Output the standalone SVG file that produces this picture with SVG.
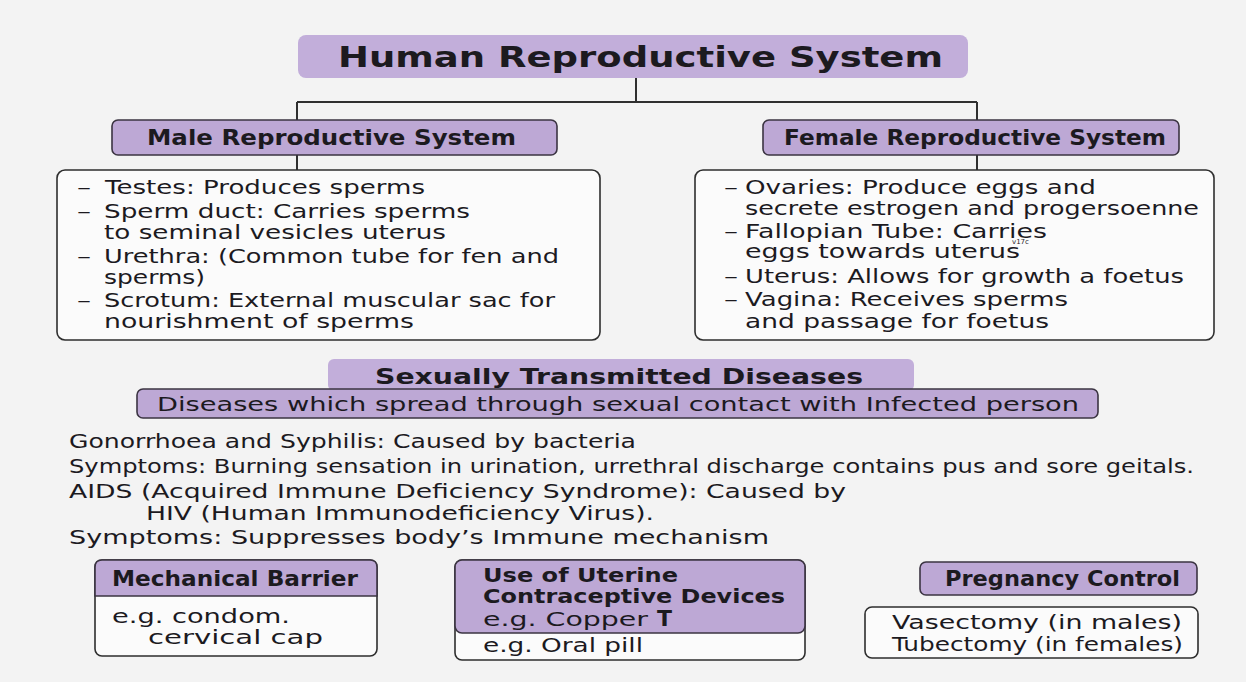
<svg xmlns="http://www.w3.org/2000/svg" width="1246" height="682" viewBox="0 0 1246 682">
<style>
  text { font-family: "DejaVu Sans", "Liberation Sans", sans-serif; fill: #1c1a1f; }
  .t { font-size: 29px; font-weight: bold; }
  .h { font-size: 21px; font-weight: bold; }
  .hs { font-size: 19px; font-weight: bold; }
  .r { font-size: 19px; }
  .m { font-size: 20px; }
  .lav { fill: #bda8d5; stroke: #3b3442; stroke-width: 1.6; }
  .lavsoft { fill: #c2aeda; stroke: none; }
  .box { fill: #fbfbfb; stroke: #2e2e2e; stroke-width: 1.6; }
  .con { stroke: #2f2f2f; stroke-width: 2; fill: none; }
</style>
<rect width="1246" height="682" fill="#f3f3f3"/>

<g id="connectors">
  <line class="con" x1="636" y1="78" x2="636" y2="102"/>
  <line class="con" x1="297" y1="102" x2="977" y2="102"/>
  <line class="con" x1="297" y1="102" x2="297" y2="120"/>
  <line class="con" x1="977" y1="102" x2="977" y2="120"/>
  <line class="con" x1="297" y1="155" x2="297" y2="170"/>
  <line class="con" x1="977" y1="155" x2="977" y2="170"/>
</g>

<g id="title">
  <rect class="lavsoft" x="298" y="35" width="670" height="43" rx="8"/>
  <text class="t" x="338" y="67" textLength="605" lengthAdjust="spacingAndGlyphs">Human Reproductive System</text>
</g>

<g id="male-header">
  <rect class="lav" x="112" y="120" width="445" height="35" rx="6"/>
  <text class="h" x="147" y="145" textLength="369" lengthAdjust="spacingAndGlyphs">Male Reproductive System</text>
</g>

<g id="female-header">
  <rect class="lav" x="763" y="120" width="416" height="35" rx="6"/>
  <text class="h" x="784" y="145" textLength="382" lengthAdjust="spacingAndGlyphs">Female Reproductive System</text>
</g>

<g id="male-content">
  <rect class="box" x="57" y="170" width="543" height="170" rx="8"/>
  <text class="r" x="77" y="194" textLength="14" lengthAdjust="spacingAndGlyphs">–</text>
  <text class="r" x="105" y="194" textLength="320" lengthAdjust="spacingAndGlyphs">Testes: Produces sperms</text>
  <text class="r" x="77" y="218" textLength="14" lengthAdjust="spacingAndGlyphs">–</text>
  <text class="r" x="104" y="218" textLength="366" lengthAdjust="spacingAndGlyphs">Sperm duct: Carries sperms</text>
  <text class="r" x="104" y="239" textLength="342" lengthAdjust="spacingAndGlyphs">to seminal vesicles uterus</text>
  <text class="r" x="77" y="263" textLength="14" lengthAdjust="spacingAndGlyphs">–</text>
  <text class="r" x="104" y="263" textLength="455" lengthAdjust="spacingAndGlyphs">Urethra: (Common tube for fen and</text>
  <text class="r" x="104" y="284" textLength="101" lengthAdjust="spacingAndGlyphs">sperms)</text>
  <text class="r" x="77" y="307" textLength="14" lengthAdjust="spacingAndGlyphs">–</text>
  <text class="r" x="104" y="307" textLength="451" lengthAdjust="spacingAndGlyphs">Scrotum: External muscular sac for</text>
  <text class="r" x="104" y="328" textLength="310" lengthAdjust="spacingAndGlyphs">nourishment of sperms</text>
</g>

<g id="female-content">
  <rect class="box" x="695" y="170" width="519" height="170" rx="8"/>
  <text class="r" x="724" y="194" textLength="14" lengthAdjust="spacingAndGlyphs">–</text>
  <text class="r" x="745" y="194" textLength="351" lengthAdjust="spacingAndGlyphs">Ovaries: Produce eggs and</text>
  <text class="r" x="745" y="215" textLength="454" lengthAdjust="spacingAndGlyphs">secrete estrogen and progersoenne</text>
  <text class="r" x="724" y="238" textLength="14" lengthAdjust="spacingAndGlyphs">–</text>
  <text class="r" x="745" y="238" textLength="302" lengthAdjust="spacingAndGlyphs">Fallopian Tube: Carries</text>
  <text class="r" x="745" y="258" textLength="275" lengthAdjust="spacingAndGlyphs">eggs towards uterus</text>
  <text x="1012" y="244" style="font-size:7px">v17c</text>
  <text class="r" x="724" y="283" textLength="14" lengthAdjust="spacingAndGlyphs">–</text>
  <text class="r" x="745" y="283" textLength="439" lengthAdjust="spacingAndGlyphs">Uterus: Allows for growth a foetus</text>
  <text class="r" x="724" y="306" textLength="14" lengthAdjust="spacingAndGlyphs">–</text>
  <text class="r" x="745" y="306" textLength="323" lengthAdjust="spacingAndGlyphs">Vagina: Receives sperms</text>
  <text class="r" x="745" y="328" textLength="304" lengthAdjust="spacingAndGlyphs">and passage for foetus</text>
</g>

<g id="std-header">
  <rect class="lavsoft" x="328" y="359" width="586" height="32" rx="6"/>
  <text class="h" x="375" y="384" textLength="488" lengthAdjust="spacingAndGlyphs">Sexually Transmitted Diseases</text>
</g>

<g id="std-definition">
  <rect class="lav" x="137" y="389" width="961" height="29" rx="6"/>
  <text class="m" x="157" y="411" textLength="922" lengthAdjust="spacingAndGlyphs">Diseases which spread through sexual contact with Infected person</text>
</g>

<g id="std-details">
  <text class="m" x="69" y="448" textLength="567" lengthAdjust="spacingAndGlyphs">Gonorrhoea and Syphilis: Caused by bacteria</text>
  <text class="m" x="69" y="473" textLength="1125" lengthAdjust="spacingAndGlyphs">Symptoms: Burning sensation in urination, urrethral discharge contains pus and sore geitals.</text>
  <text class="m" x="69" y="498" textLength="777" lengthAdjust="spacingAndGlyphs">AIDS (Acquired Immune Deficiency Syndrome): Caused by</text>
  <text class="m" x="146" y="520" textLength="508" lengthAdjust="spacingAndGlyphs">HIV (Human Immunodeficiency Virus).</text>
  <text class="m" x="69" y="544" textLength="700" lengthAdjust="spacingAndGlyphs">Symptoms: Suppresses body’s Immune mechanism</text>
</g>

<g id="mechanical-barrier">
  <rect class="box" x="95" y="560" width="282" height="96" rx="7"/>
  <path d="M95,596 V567 Q95,560 102,560 H370 Q377,560 377,567 V596 Z" fill="#bda8d5" stroke="#3b3442" stroke-width="1.6"/>
  <text class="h" x="112" y="586" textLength="246" lengthAdjust="spacingAndGlyphs">Mechanical Barrier</text>
  <text class="m" x="112" y="623" textLength="178" lengthAdjust="spacingAndGlyphs">e.g. condom.</text>
  <text class="m" x="148" y="644" textLength="175" lengthAdjust="spacingAndGlyphs">cervical cap</text>
</g>

<g id="uterine-devices">
  <rect class="box" x="455" y="560" width="350" height="100" rx="7"/>
  <rect class="lav" x="455" y="560" width="350" height="73" rx="7"/>
  <text class="hs" x="483" y="582" textLength="195" lengthAdjust="spacingAndGlyphs">Use of Uterine</text>
  <text class="hs" x="483" y="603" textLength="302" lengthAdjust="spacingAndGlyphs">Contraceptive Devices</text>
  <text class="m" x="483" y="626" textLength="165" lengthAdjust="spacingAndGlyphs">e.g. Copper</text>
  <text x="657" y="626" style="font-size:22px;font-weight:bold" textLength="15" lengthAdjust="spacingAndGlyphs">T</text>
  <text class="m" x="483" y="652" textLength="160" lengthAdjust="spacingAndGlyphs">e.g. Oral pill</text>
</g>

<g id="pregnancy-control">
  <rect class="lav" x="920" y="562" width="277" height="33" rx="6"/>
  <text class="h" x="945" y="586" textLength="235" lengthAdjust="spacingAndGlyphs">Pregnancy Control</text>
  <rect class="box" x="865" y="607" width="333" height="51" rx="7"/>
  <text class="r" x="892" y="629" textLength="290" lengthAdjust="spacingAndGlyphs">Vasectomy (in males)</text>
  <text class="r" x="892" y="651" textLength="291" lengthAdjust="spacingAndGlyphs">Tubectomy (in females)</text>
</g>
</svg>
